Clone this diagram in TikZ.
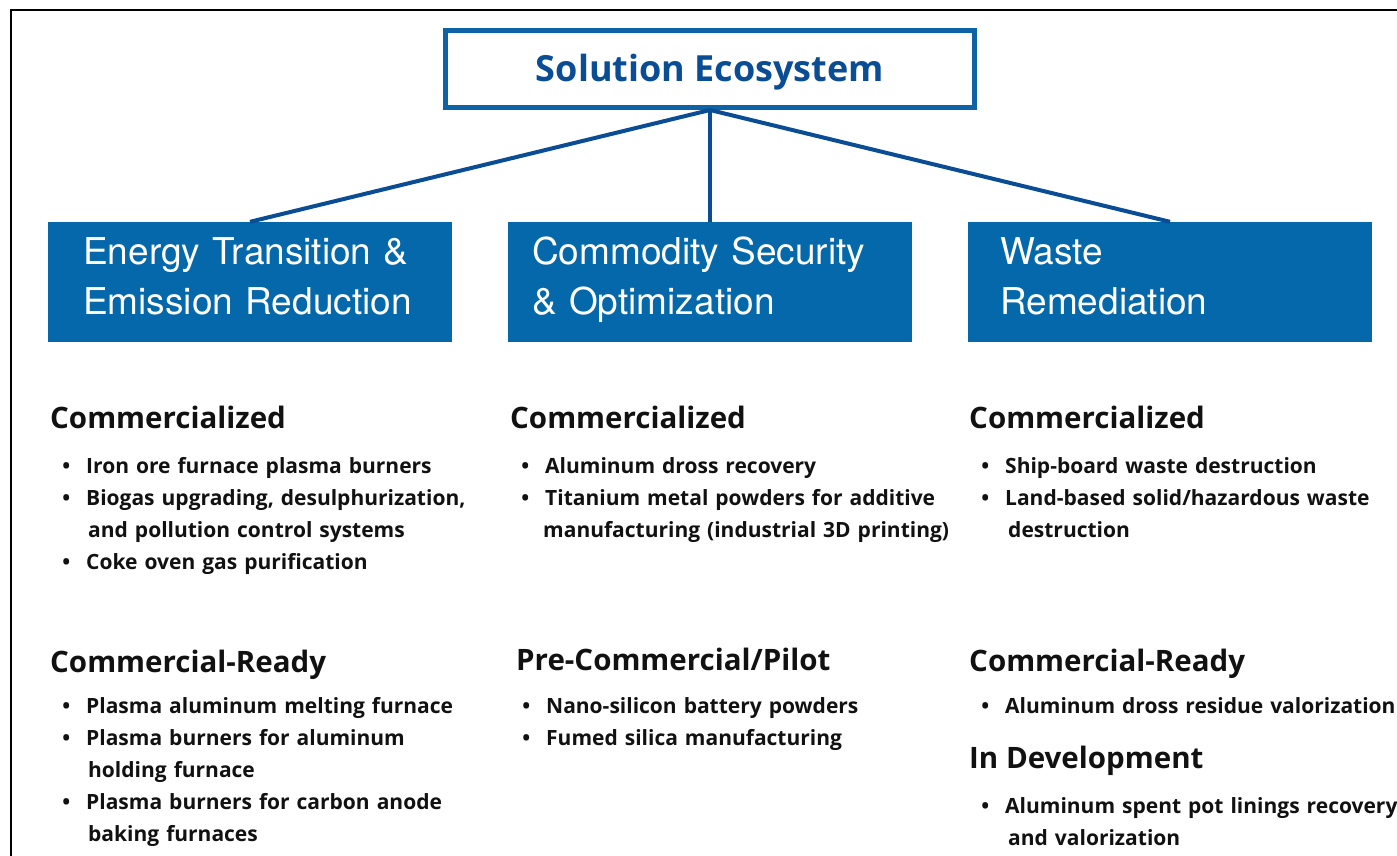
\documentclass[tikz,border=0pt]{standalone}
\usepackage{fontspec}
\setmainfont{Open Sans}
\newfontfamily\boxfont{TeX Gyre Heros}
\usepackage{xcolor}
\usepackage{tikz}
\usetikzlibrary{positioning,calc}
\definecolor{ecoFill}{HTML}{0468AA}
\definecolor{ecoEdge}{HTML}{0D63A5}
\definecolor{ecoDark}{HTML}{0A4D95}
\definecolor{bodyText}{HTML}{111111}
\newcommand{\blt}{\leavevmode\llap{\textbullet\hspace{16pt}}}

\begin{document}
\begin{tikzpicture}[
  x=1pt, y=-1pt,
  hub/.style={draw=ecoEdge, line width=5pt, minimum width=529pt, minimum height=77pt,
    inner sep=0pt, text height=26pt, text depth=0pt, text=ecoDark,
    font=\fontsize{36}{40}\selectfont\bfseries},
  area/.style={fill=ecoFill, minimum width=404pt, minimum height=120pt, inner sep=0pt},
  arealabel/.style={font=\boxfont\fontsize{37}{50}\selectfont, text=white, text width=380pt,
    align=left, anchor=base west, inner sep=0pt},
  link/.style={draw=ecoDark, line width=4pt},
  stage/.style={font=\fontsize{29.5}{35}\selectfont\bfseries, text=bodyText, anchor=base west, inner sep=0pt},
  items/.style={font=\fontsize{21}{32}\selectfont\bfseries, text=bodyText, text width=430pt,
    align=left, anchor=base west, inner sep=0pt},
]
\useasboundingbox (0,0) rectangle (1397,856);

% frame edges
\draw[line width=2.5pt, black] (11,856) -- (11,10) -- (1397,10);

% top of the tree
\node[hub] (eco) at (710,69) {Solution Ecosystem};

% three solution areas
\node[area] (energy) at (250,282) {};
\node[area] (commodity) at (710,282) {};
\node[area] (waste) at (1170,282) {};

\node[arealabel] (energytxt) at (83,264) {Energy Transition \&\\Emission Reduction};
\node[arealabel] (commoditytxt) at (532,264) {Commodity Security\\\& Optimization};
\node[arealabel] (wastetxt) at (1000,264) {Waste\\Remediation};

% branches
\draw[link] (eco.south) -- (energy.north);
\draw[link] (eco.south) -- (commodity.north);
\draw[link] (eco.south) -- (waste.north);

% column 1: energy
\node[stage] (e1) at (50,428) {Commercialized};
\node[items] (e1list) at (86,473) {\blt Iron ore furnace plasma burners\\
  \blt Biogas upgrading, desulphurization,\\
  \hspace*{2pt}and pollution control systems\\
  \blt Coke oven gas purification};
\node[stage] (e2) at (50,672) {Commercial-Ready};
\node[items] (e2list) at (86,713) {\blt Plasma aluminum melting furnace\\
  \blt Plasma burners for aluminum\\
  \hspace*{2pt}holding furnace\\
  \blt Plasma burners for carbon anode\\
  \hspace*{2pt}baking furnaces};

% column 2: commodity
\node[stage] (c1) at (510,428) {Commercialized};
\node[items] (c1list) at (545,473) {\blt Aluminum dross recovery\\
  \blt Titanium metal powders for additive\\
  \hspace*{-2pt}manufacturing (industrial 3D printing)};
\node[stage] (c2) at (516,670) {Pre-Commercial/Pilot};
\node[items] (c2list) at (546,713) {\blt Nano-silicon battery powders\\
  \blt Fumed silica manufacturing};

% column 3: waste
\node[stage] (w1) at (969,428) {Commercialized};
\node[items] (w1list) at (1005,473) {\blt Ship-board waste destruction\\
  \blt Land-based solid/hazardous waste\\
  \hspace*{3pt}destruction};
\node[stage] (w2) at (969,671) {Commercial-Ready};
\node[items] (w2list) at (1005,713) {\blt Aluminum dross residue valorization};
\node[stage] (w3) at (969,768) {In Development};
\node[items] (w3list) at (1005,813) {\blt Aluminum spent pot linings recovery\\
  \hspace*{3pt}and valorization};

\end{tikzpicture}
\end{document}
